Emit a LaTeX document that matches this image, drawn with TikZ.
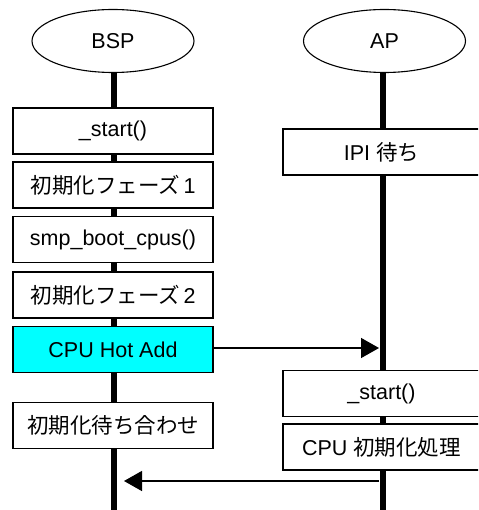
\documentclass[tikz,border=0pt]{standalone}
\usepackage{fontspec}
\setmainfont{Liberation Sans}
\newfontfamily\jafont{Noto Sans CJK JP}
\usetikzlibrary{arrows.meta,shapes.geometric}
\newcommand{\ja}[1]{{\jafont #1}}
\definecolor{hotcyan}{RGB}{0,255,255}
\tikzset{
  actor/.style={draw, line width=1.1pt, ellipse, minimum width=162pt, minimum height=63pt, inner sep=0pt, font=\fontsize{21.5}{21.5}\selectfont},
  stepbox/.style={draw, line width=1.2pt, fill=white, minimum height=46pt, inner sep=0pt, font=\fontsize{21.5}{21.5}\selectfont},
  leftbox/.style={stepbox, minimum width=200pt},
  rightbox/.style={stepbox, minimum width=197pt},
  lifeline/.style={line width=6pt},
  msg/.style={line width=1.4pt, -{Triangle[length=18pt, width=20pt]}}
}
\begin{document}
\begin{tikzpicture}[x=1pt, y=-1pt]
\useasboundingbox (0,0) rectangle (478,510);
\clip (0,0) rectangle (478,510);

% processor headers
\node[actor] (bsp) at (113,41) {BSP};
\node[actor] (ap) at (384.5,41) {AP};

% lifeline ends
\coordinate (bspend) at (114,512);
\coordinate (apend) at (382.5,512);
\draw[lifeline] (bsp.south -| bspend) -- (bspend);
\draw[lifeline] (ap.south -| apend) -- (apend);

% BSP steps
\node[leftbox] (bstart) at (113,131) {\_start()};
\node[leftbox] (phase1) at (113,185) {\ja{初期化フェーズ}\,1};
\node[leftbox] (smp) at (113,239.5) {smp\_boot\_cpus()};
\node[leftbox] (phase2) at (113,295) {\ja{初期化フェーズ}\,2};
\node[leftbox, fill=hotcyan] (hotadd) at (113,349.5) {CPU Hot Add};
\node[leftbox] (sync) at (113,425.5) {\ja{初期化待ち合わせ}};

% AP steps
\node[rightbox] (ipi) at (381.5,152) {IPI \ja{待ち}};
\node[rightbox] (astart) at (381.5,393.5) {\_start()};
\node[rightbox] (cpuinit) at (381.5,447) {CPU \ja{初期化処理}};

% messages between processors
\coordinate (hotaddtip) at (379,348);
\coordinate (donefrom) at (379,481);
\coordinate (donetip) at (124,481);
\draw[msg] (hotadd.east |- hotaddtip) -- (hotaddtip);
\draw[msg] (donefrom) -- (donetip);
\end{tikzpicture}
\end{document}
